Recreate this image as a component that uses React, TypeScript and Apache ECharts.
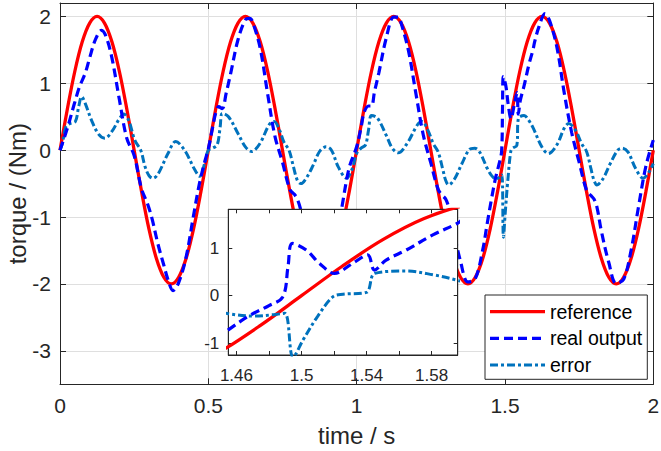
import React, { useEffect, useRef } from "react";
import * as echarts from "echarts";

// reference torque, sampled every 0.025 s
const refValues = [
  0, 0.62, 1.18, 1.62, 1.9, 2.0, 1.9, 1.62, 1.18, 0.62, 0, -0.62, -1.18, -1.62, -1.9, -2.0, -1.9, -1.62, -1.18, -0.62,
  0, 0.62, 1.18, 1.62, 1.9, 2.0, 1.9, 1.62, 1.18, 0.62, 0, -0.62, -1.18, -1.62, -1.9, -2.0, -1.9, -1.62, -1.18, -0.62,
  0, 0.62, 1.18, 1.62, 1.9, 2.0, 1.9, 1.62, 1.18, 0.62, 0, -0.62, -1.18, -1.62, -1.9, -2.0, -1.9, -1.62, -1.18, -0.62,
  0, 0.62, 1.18, 1.62, 1.9, 2.0, 1.9, 1.62, 1.18, 0.62, 0, -0.62, -1.18, -1.62, -1.9, -2.0, -1.9, -1.62, -1.18, -0.62,
  0,
];
const refTime = refValues.map((_, i) => i * 0.025);

// real output
const outTime = [
  0, 0.025, 0.05, 0.066, 0.085, 0.1, 0.12, 0.14, 0.155, 0.175,
  0.2, 0.225, 0.25, 0.275, 0.295, 0.31, 0.33, 0.35, 0.365, 0.381,
  0.4, 0.425, 0.45, 0.47, 0.488, 0.5,
  0.515, 0.525, 0.535, 0.547, 0.56, 0.575, 0.6, 0.625, 0.64, 0.65,
  0.675, 0.7, 0.725, 0.75, 0.775, 0.79, 0.8, 0.812, 0.825, 0.85,
  0.875, 0.9, 0.925, 0.95, 0.975, 1.0,
  1.015, 1.025, 1.04, 1.05, 1.06, 1.075, 1.1, 1.125, 1.14, 1.15,
  1.175, 1.2, 1.225, 1.25, 1.275, 1.29, 1.3, 1.31, 1.325, 1.35,
  1.375, 1.4, 1.425, 1.44, 1.455, 1.468, 1.48, 1.4886, 1.4917, 1.4944,
  1.503, 1.511, 1.5202, 1.5314, 1.5407, 1.5448, 1.552, 1.5643, 1.5807, 1.595,
  1.6, 1.615, 1.635, 1.65, 1.675, 1.7, 1.725, 1.75, 1.775, 1.79,
  1.8, 1.81, 1.825, 1.85, 1.875, 1.9, 1.925, 1.95, 1.975, 2.0,
];
const outValues = [
  0, 0.33, 0.72, 0.95, 1.15, 1.38, 1.66, 1.79, 1.7, 1.38,
  0.76, 0.18, -0.08, -0.58, -0.8, -1.02, -1.4, -1.72, -1.95, -2.1,
  -1.98, -1.6, -0.98, -0.5, -0.17, 0.02,
  0.35, 0.56, 0.65, 0.62, 0.85, 1.14, 1.65, 1.95, 1.97, 1.91,
  1.52, 0.84, 0.2, -0.18, -0.59, -0.66, -0.73, -0.9, -1.18, -1.65,
  -1.98, -1.93, -1.51, -0.86, -0.26, 0.05,
  0.34, 0.56, 0.66, 0.66, 0.87, 1.16, 1.68, 1.99, 1.99, 1.9,
  1.48, 0.84, 0.22, -0.19, -0.59, -0.68, -0.73, -0.85, -1.17, -1.66,
  -1.97, -1.92, -1.49, -1.1, -0.72, -0.42, -0.21, -0.02, 0.61, 1.1,
  0.96, 0.68, 0.47, 0.68, 0.86, 0.54, 0.75, 0.96, 1.28, 1.51,
  1.62, 1.85, 2.04, 1.94, 1.54, 0.85, 0.26, -0.18, -0.6, -0.68,
  -0.73, -0.85, -1.21, -1.68, -1.99, -1.93, -1.5, -0.85, -0.24, 0.15,
];

// error
const errTime = [
  0, 0.008, 0.02, 0.035, 0.052, 0.063, 0.073, 0.085, 0.106, 0.13,
  0.151, 0.175, 0.2, 0.215, 0.232, 0.252, 0.272, 0.287, 0.3, 0.313,
  0.33, 0.364, 0.39, 0.42, 0.454, 0.471, 0.488, 0.5,
  0.515, 0.53, 0.54, 0.547, 0.568, 0.6, 0.625, 0.646, 0.674, 0.705,
  0.722, 0.74, 0.755, 0.772, 0.787, 0.8, 0.812, 0.83, 0.854, 0.875,
  0.897, 0.915, 0.938, 0.966, 0.985, 1.0,
  1.015, 1.03, 1.04, 1.05, 1.07, 1.1, 1.12, 1.14, 1.17, 1.205,
  1.22, 1.24, 1.258, 1.275, 1.29, 1.3, 1.31, 1.33, 1.355, 1.38,
  1.398, 1.415, 1.44, 1.455, 1.47, 1.483, 1.4897, 1.4948, 1.501, 1.5098,
  1.5194, 1.5255, 1.5399, 1.545, 1.5645, 1.5809, 1.5953, 1.624, 1.646, 1.675,
  1.7, 1.715, 1.74, 1.758, 1.775, 1.79, 1.8, 1.81, 1.83, 1.855,
  1.88, 1.895, 1.915, 1.94, 1.966, 1.985, 2.0,
];
const errValues = [
  0, 0.1, 0.35, 0.4, 0.43, 0.65, 0.8, 0.7, 0.45, 0.24,
  0.18, 0.28, 0.47, 0.54, 0.44, 0.15, 0.0, -0.25, -0.38, -0.42,
  -0.36, -0.05, 0.13, 0.0, -0.29, -0.39, -0.19, 0.0,
  0.03, 0.08, 0.35, 0.55, 0.5, 0.25, 0.05, -0.02, 0.1, 0.38,
  0.43, 0.3, 0.12, 0.0, -0.25, -0.45, -0.5, -0.42, -0.22, -0.02,
  0.05, 0.0, -0.25, -0.42, -0.28, -0.05,
  0.03, 0.08, 0.3, 0.52, 0.48, 0.22, 0.03, -0.04, 0.1, 0.38,
  0.43, 0.3, 0.1, -0.03, -0.28, -0.45, -0.52, -0.43, -0.2, 0.01,
  0.03, -0.03, -0.27, -0.38, -0.43, -0.4, -0.37, -1.3, -0.93, -0.44,
  -0.02, 0.03, 0.07, 0.47, 0.52, 0.44, 0.33, 0.05, -0.05, 0.08,
  0.33, 0.4, 0.28, 0.1, -0.02, -0.28, -0.45, -0.52, -0.43, -0.2,
  0.0, 0.03, -0.03, -0.27, -0.42, -0.33, -0.2,
];

const seriesNames = ["reference", "real output", "error"];
const xTitle = "time / s";
const yTitle = "torque / (Nm)";

const FONT = "'Liberation Sans', Arial, Helvetica, sans-serif";
const AX = "#262626";
const TICK_FS = 21;
const INSET_FS = 17;
const TITLE_FS = 24;
const LEGEND_FS = 19.5;

const zip = (t: number[], v: number[]) => t.map((x, i) => [x, v[i]]);

const styles = [
  { color: "#ff0000", width: 3.3, dash: null as number[] | null },
  { color: "#0000ff", width: 3.2, dash: [9, 5] },
  { color: "#0072bd", width: 3, dash: [8, 3, 3, 3] },
];

function makeSeries(xi: number, yi: number, z: number) {
  const datasets = [zip(refTime, refValues), zip(outTime, outValues), zip(errTime, errValues)];
  return datasets.map((d, k) => ({
    type: "line",
    name: seriesNames[k],
    data: d,
    xAxisIndex: xi,
    yAxisIndex: yi,
    symbol: "none",
    showSymbol: false,
    smooth: 0.35,
    clip: true,
    z: z + (k === 0 ? 0 : k === 1 ? 0.2 : 0.1),
    color: styles[k].color,
    lineStyle: {
      color: styles[k].color,
      width: styles[k].width,
      type: styles[k].dash ? styles[k].dash : "solid",
    },
    emphasis: { disabled: true },
    silent: true,
  }));
}

const axisLine = { show: true, onZero: false, lineStyle: { color: AX, width: 1 } };
const ticks = (len: number) => ({ show: true, inside: true, length: len, lineStyle: { color: AX, width: 1 } });

export default function App() {
  const ref = useRef<HTMLDivElement>(null);
  useEffect(() => {
    if (!ref.current) return;
    const chart = echarts.init(ref.current, undefined, { renderer: "svg" });

    const mainGrid = {
      left: 60, top: 3, width: 593.3, height: 381.3, show: false,
      containLabel: false, outerBoundsMode: "none",
    };
    const insetGrid = {
      left: 228.3, top: 209.3, width: 229.4, height: 145.7,
      show: true, backgroundColor: "#ffffff", borderColor: AX, borderWidth: 1, z: 3,
      containLabel: false, outerBoundsMode: "none",
    };

    const mainX = {
      type: "value", gridIndex: 0, position: "bottom", min: 0, max: 2, interval: 0.5,
      axisLine, axisTick: ticks(6),
      axisLabel: { color: AX, fontSize: TICK_FS, fontFamily: FONT, margin: 11 },
      splitLine: { show: true, lineStyle: { color: "#dfdfdf", width: 1 } },
      name: xTitle, nameLocation: "middle", nameGap: 39, nameMoveOverlap: false,
      nameTextStyle: { color: AX, fontSize: TITLE_FS, fontFamily: FONT },
    };
    const mainXTop = {
      type: "value", gridIndex: 0, position: "top", min: 0, max: 2, interval: 0.5,
      axisLine, axisTick: ticks(6), axisLabel: { show: false }, splitLine: { show: false },
    };
    const insetX = {
      type: "value", gridIndex: 1, position: "bottom", min: 1.455, max: 1.596,
      minInterval: 0.02, maxInterval: 0.02, z: 4,
      axisLine, axisTick: ticks(4),
      axisLabel: {
        color: AX, fontSize: INSET_FS, fontFamily: FONT, margin: 12,
        showMinLabel: false, showMaxLabel: false,
        formatter: (v: number) => {
          const n = Math.round(v * 100);
          return n % 4 === 2 ? String(n / 100) : "";
        },
      },
      splitLine: { show: false },
    };
    const insetXTop = {
      type: "value", gridIndex: 1, position: "top", min: 1.455, max: 1.596,
      minInterval: 0.02, maxInterval: 0.02, z: 4,
      axisLine, axisTick: ticks(4), axisLabel: { show: false }, splitLine: { show: false },
    };

    const mainY = {
      type: "value", gridIndex: 0, position: "left", min: -3.5, max: 2.2,
      minInterval: 1, maxInterval: 1,
      axisLine, axisTick: ticks(6),
      axisLabel: { color: AX, fontSize: TICK_FS, fontFamily: FONT, margin: 9, showMinLabel: false, showMaxLabel: false },
      splitLine: { show: true, lineStyle: { color: "#dfdfdf", width: 1 } },
      name: yTitle, nameLocation: "middle", nameGap: 31, nameMoveOverlap: false,
      nameTextStyle: { color: AX, fontSize: TITLE_FS, fontFamily: FONT },
    };
    const mainYRight = {
      type: "value", gridIndex: 0, position: "right", min: -3.5, max: 2.2,
      minInterval: 1, maxInterval: 1,
      axisLine, axisTick: ticks(6), axisLabel: { show: false }, splitLine: { show: false },
    };
    const insetY = {
      type: "value", gridIndex: 1, position: "left", min: -1.25, max: 1.82,
      minInterval: 1, maxInterval: 1, z: 4,
      axisLine, axisTick: ticks(4),
      axisLabel: { color: AX, fontSize: INSET_FS, fontFamily: FONT, margin: 9, showMinLabel: false, showMaxLabel: false },
      splitLine: { show: false },
    };
    const insetYRight = {
      type: "value", gridIndex: 1, position: "right", min: -1.25, max: 1.82,
      minInterval: 1, maxInterval: 1, z: 4,
      axisLine, axisTick: ticks(4), axisLabel: { show: false }, splitLine: { show: false },
    };

    // legend drawn as a graphic box
    const lgLeft = 485, lgTop = 295, lgW = 162.3, lgH = 84.3;
    const rowY = [311.7, 338.3, 365];
    const legendGraphic: any[] = [
      {
        type: "rect", z: 100,
        shape: { x: lgLeft, y: lgTop, width: lgW, height: lgH },
        style: { fill: "#ffffff", stroke: AX, lineWidth: 1 },
      },
    ];
    seriesNames.forEach((name, k) => {
      legendGraphic.push({
        type: "line", z: 101,
        shape: { x1: lgLeft + 5, y1: rowY[k], x2: lgLeft + 60, y2: rowY[k] },
        style: {
          stroke: styles[k].color, lineWidth: styles[k].width,
          lineDash: styles[k].dash || undefined,
        },
      });
      legendGraphic.push({
        type: "text", z: 101,
        x: lgLeft + 65, y: rowY[k],
        style: {
          text: name, fill: "#000000", fontSize: LEGEND_FS, fontFamily: FONT,
          verticalAlign: "middle", align: "left",
        },
      });
    });

    chart.setOption({
      animation: false,
      backgroundColor: "#ffffff",
      textStyle: { fontFamily: FONT },
      grid: [mainGrid, insetGrid],
      xAxis: [mainX, mainXTop, insetX, insetXTop],
      yAxis: [mainY, mainYRight, insetY, insetYRight],
      graphic: legendGraphic,
      series: [...makeSeries(0, 0, 2), ...makeSeries(2, 2, 5)],
    } as any);

    return () => chart.dispose();
  }, []);

  return (
    <div
      ref={ref}
      style={{ position: "fixed", left: 0, top: 0, width: 661, height: 451, background: "#fff" }}
    />
  );
}
